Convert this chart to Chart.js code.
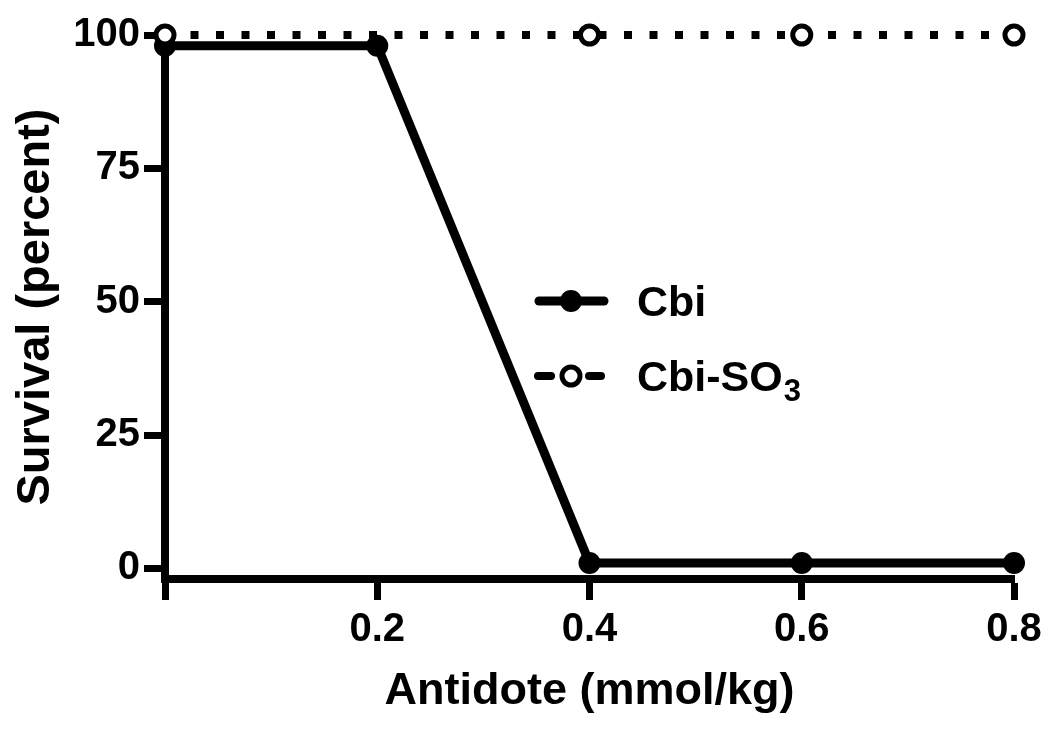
<!DOCTYPE html>
<html>
<head>
<meta charset="utf-8">
<script src="https://cdn.jsdelivr.net/npm/chart.js@4.4.0/dist/chart.umd.min.js"></script>
<style>
  html, body { margin: 0; padding: 0; background: #ffffff; }
  #wrap { width: 1050px; height: 732px; }
</style>
</head>
<body>
<div id="wrap"><canvas id="c" width="1050" height="732"></canvas></div>
<script>
// ---- Data ----
const doses = [0, 0.2, 0.4, 0.6, 0.8];
const cbiSurvival = [98, 98, 1, 1, 1];
const cbiSO3Survival = [100, null, 100, 100, 100];
const seriesLabels = ['Cbi', 'Cbi-SO\u2083'];
const xTicks = [0, 0.2, 0.4, 0.6, 0.8];
const yTicks = [0, 25, 50, 75, 100];
const xTitle = 'Antidote (mmol/kg)';
const yTitle = 'Survival (percent)';

const FONT = "'Liberation Sans', Arial, Helvetica, sans-serif";

function toPoints(xs, ys) {
  return xs.map((x, i) => ({ x: x, y: ys[i] }));
}

// Custom in-plot legend with subscript support
const insideLegend = {
  id: 'insideLegend',
  afterDatasetsDraw(chart) {
    const ctx = chart.ctx;
    const rows = [
      { ds: chart.data.datasets[1], y: 301 },
      { ds: chart.data.datasets[0], y: 376 }
    ];
    const x0 = 535, x1 = 608, xm = 571, xt = 637;
    ctx.save();
    rows.forEach((r) => {
      const ds = r.ds;
      ctx.strokeStyle = '#000';
      ctx.lineCap = 'round';
      ctx.lineWidth = ds.borderWidth;
      if (ds.borderDash && ds.borderDash.length) {
        ctx.beginPath(); ctx.moveTo(x0 + 3, r.y); ctx.lineTo(x0 + 16, r.y); ctx.stroke();
        ctx.beginPath(); ctx.moveTo(x1 - 19, r.y); ctx.lineTo(x1 - 7, r.y); ctx.stroke();
      } else {
        ctx.beginPath(); ctx.moveTo(x0 + 4, r.y); ctx.lineTo(x1 - 4, r.y); ctx.stroke();
      }
      ctx.beginPath();
      ctx.arc(xm, r.y, ds.pointRadius, 0, Math.PI * 2);
      ctx.fillStyle = ds.pointBackgroundColor;
      ctx.fill();
      if (ds.pointBorderWidth) {
        ctx.lineWidth = ds.pointBorderWidth;
        ctx.strokeStyle = ds.pointBorderColor;
        ctx.stroke();
      }
      // text with subscript digits
      const label = ds.label;
      const subMap = { '\u2080': '0', '\u2081': '1', '\u2082': '2', '\u2083': '3', '\u2084': '4' };
      let x = xt;
      ctx.fillStyle = '#000';
      ctx.textBaseline = 'alphabetic';
      ctx.textAlign = 'left';
      const base = r.y + 15;
      for (const ch of label) {
        if (subMap[ch] !== undefined) {
          ctx.font = 'bold 31px ' + FONT;
          ctx.fillText(subMap[ch], x + 1, base + 10);
          x += ctx.measureText(subMap[ch]).width + 1;
        } else {
          ctx.font = 'bold 43px ' + FONT;
          ctx.fillText(ch, x, base);
          x += ctx.measureText(ch).width;
        }
      }
    });
    ctx.restore();
  }
};

const ctx = document.getElementById('c').getContext('2d');
new Chart(ctx, {
  type: 'line',
  data: {
    datasets: [
      {
        label: seriesLabels[1],
        data: toPoints(doses, cbiSO3Survival),
        borderColor: '#000',
        borderWidth: 8,
        borderDash: [8, 17.5],
        borderCapStyle: 'butt',
        spanGaps: true,
        pointRadius: 9,
        pointBorderWidth: 5,
        pointBackgroundColor: '#fff',
        pointBorderColor: '#000',
        tension: 0,
        clip: false
      },
      {
        label: seriesLabels[0],
        data: toPoints(doses, cbiSurvival),
        borderColor: '#000',
        borderWidth: 9,
        borderJoinStyle: 'round',
        pointRadius: 11,
        pointBorderWidth: 0,
        pointBackgroundColor: '#000',
        pointBorderColor: '#000',
        tension: 0,
        clip: false
      }
    ]
  },
  options: {
    responsive: false,
    animation: false,
    devicePixelRatio: 1,
    layout: { padding: { top: 35, right: 36, left: 0, bottom: 0 } },
    plugins: { legend: { display: false }, tooltip: { enabled: false } },
    scales: {
      x: {
        type: 'linear',
        min: 0,
        max: 0.8,
        afterFit: (s) => { s.height = 153; },
        afterBuildTicks: (s) => { s.ticks = xTicks.map(v => ({ value: v })); },
        grid: { drawOnChartArea: false, drawTicks: true, tickLength: 21, tickWidth: 7, tickColor: '#000' },
        border: { display: true, color: '#000', width: 8 },
        ticks: {
          color: '#000',
          font: { family: FONT, size: 40, weight: 'bold' },
          padding: 6,
          maxRotation: 0,
          callback: (v) => (v === 0 ? '' : Number(v).toFixed(1))
        },
        title: {
          display: true,
          text: xTitle,
          color: '#000',
          font: { family: FONT, size: 45, weight: 'bold' },
          padding: { top: 0, bottom: 13 }
        }
      },
      y: {
        type: 'linear',
        min: -2,
        max: 100,
        afterFit: (s) => { s.width = 165; },
        afterBuildTicks: (s) => { s.ticks = yTicks.map(v => ({ value: v })); },
        grid: { drawOnChartArea: false, drawTicks: true, tickLength: 21, tickWidth: 7, tickColor: '#000' },
        border: { display: true, color: '#000', width: 8 },
        ticks: {
          color: '#000',
          font: { family: FONT, size: 40, weight: 'bold' },
          padding: 4,
          callback: (v) => String(v)
        },
        title: {
          display: true,
          text: yTitle,
          color: '#000',
          font: { family: FONT, size: 47, weight: 'bold' },
          padding: { top: 8, bottom: 0 }
        }
      }
    }
  },
  plugins: [insideLegend]
});
</script>
</body>
</html>
